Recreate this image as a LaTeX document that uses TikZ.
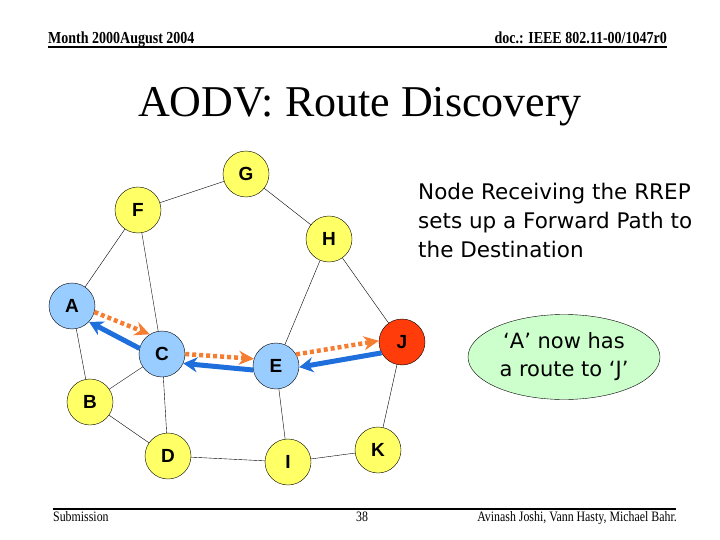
\documentclass[tikz,border=0pt]{standalone}
\usepackage{fontspec}
\usepackage{graphicx}
\setmainfont{Liberation Serif}
\newfontfamily\arialf{Liberation Sans}
\newfontfamily\tahomaf{DejaVu Sans}
\usetikzlibrary{arrows.meta,shapes.geometric}

\definecolor{nodeyellow}{RGB}{255,255,102}
\definecolor{nodeblue}{RGB}{153,204,255}
\definecolor{destred}{RGB}{255,60,10}
\definecolor{rreqorange}{RGB}{245,125,50}
\definecolor{rrepblue}{RGB}{30,110,220}
\definecolor{notegreen}{RGB}{204,255,204}

\tikzset{
  station/.style={circle, draw, thin, minimum size=46pt, inner sep=0pt,
    font=\arialf\bfseries\fontsize{19}{19}\selectfont},
  idle/.style={station, fill=nodeyellow},
  onpath/.style={station, fill=nodeblue},
  target/.style={station, fill=destred},
  rreq/.style={rreqorange, line width=4.5pt, dash pattern=on 4pt off 3pt,
    -{Stealth[length=15pt,width=14pt]}},
  rrep/.style={rrepblue, line width=5pt, -{Stealth[length=14pt,width=15pt]}},
  slidetext/.style={inner sep=0pt, font=\fontsize{12.5}{12.5}\selectfont}
}

\begin{document}
\begin{tikzpicture}[x=1pt,y=-1pt]
        \useasboundingbox (0,0) rectangle (720,540);
        % header and footer
        \node[slidetext, anchor=base west, font=\bfseries\fontsize{14}{14}\selectfont] (month) at (48,44) {\scalebox{1}[1.2]{Month 2000August 2004}};
        \node[slidetext, anchor=base east, font=\bfseries\fontsize{14}{14}\selectfont] (doc) at (667,44) {\scalebox{1}[1.2]{doc.: IEEE 802.11-00/1047r0}};
        \draw[line width=1.5pt] (48,47) -- (667,47);
        \node[anchor=base, inner sep=0pt, font=\fontsize{44}{44}\selectfont] (title) at (360,117) {AODV: Route Discovery};
        \draw[line width=1.5pt] (53,509) -- (676,509);
        \node[slidetext, anchor=base west] (sub) at (53,521) {\scalebox{0.95}[1.15]{Submission}};
        \node[slidetext, anchor=base] (page) at (362,521) {\scalebox{0.95}[1.15]{38}};
        \node[slidetext, anchor=base east] (authors) at (677,521) {\scalebox{0.95}[1.15]{Avinash Joshi, Vann Hasty, Michael Bahr.}};
        % network
        \node[idle] (G) at (246,174) {G};
        \node[idle] (F) at (138,210) {F};
        \node[idle] (H) at (329,239) {H};
        \node[onpath] (A) at (72,306) {A};
        \node[onpath] (C) at (162,354) {C};
        \node[onpath] (E) at (276,366) {E};
        \node[target] (J) at (402,342) {J};
        \node[idle] (B) at (90,402) {B};
        \node[idle] (D) at (168,456) {D};
        \node[idle] (I) at (288,462) {I};
        \node[idle] (K) at (378,450) {K};
        \foreach \u/\v in {G/F,G/H,F/A,F/C,H/E,H/J,A/B,B/C,B/D,C/D,E/I,D/I,I/K,J/K}
          \draw (\u) -- (\v);
        % route request and reply
        \draw[rreq] (A.-15) -- (C.122);
        \draw[rrep] (C.166) -- (A.-43);
        \draw[rreq] (C.0) -- (E.162);
        \draw[rrep] (E.190) -- (C.-24);
        \draw[rreq] (E.30) -- (J.177);
        \draw[rrep] (J.208) -- (E.-3);
        % notes
        \node[anchor=north west, align=left, inner sep=0pt, font=\tahomaf\fontsize{21.5}{29}\selectfont] (note) at (418,183)
          {Node Receiving the RREP\\sets up a Forward Path to\\the Destination};
        \node[ellipse, draw, thin, fill=notegreen, minimum width=192pt, minimum height=85pt, inner sep=0pt,
          align=center, font=\tahomaf\fontsize{21}{28}\selectfont] (route) at (564,357) {‘A’ now has\\a route to ‘J’};
      \end{tikzpicture}
\end{document}
